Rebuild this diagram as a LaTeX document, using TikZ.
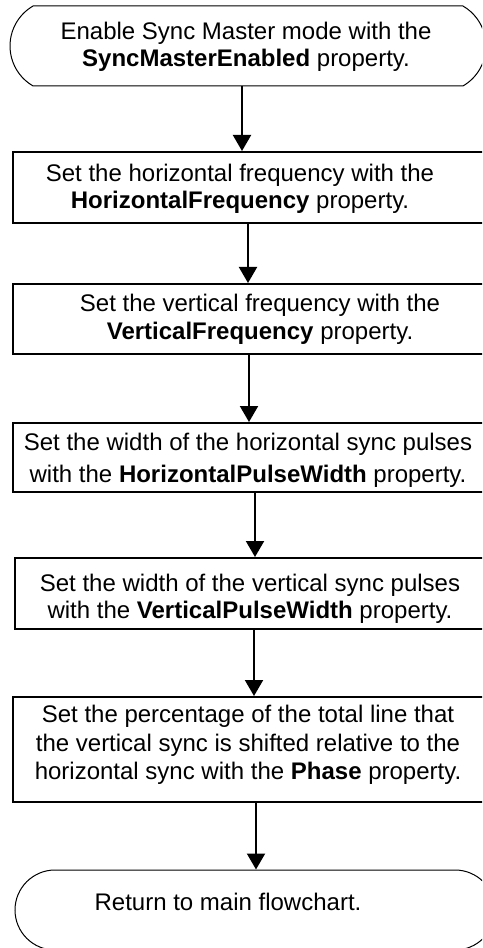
\documentclass[tikz,border=0pt]{standalone}
\usepackage{fontspec}
\setmainfont{Liberation Sans}
\usetikzlibrary{arrows.meta,shapes.misc}

\tikzset{
  procbox/.style={draw, rectangle, line width=1.5pt, inner sep=0pt},
  termbox/.style={draw, rounded rectangle, line width=0.75pt, inner sep=0pt},
  txt/.style={align=center, inner sep=0pt, font=\fontsize{18}{20.25}\selectfont},
  flow/.style={line width=1.5pt, -{Triangle[length=12pt, width=13.5pt]}}
}

\begin{document}
\begin{tikzpicture}[x=0.75pt, y=-0.75pt]
  \useasboundingbox (0,0) rectangle (482,948);
  \clip (0,0) rectangle (482,948);

  % outlines of the steps (sizes in pixel units of 0.75pt)
  \node[termbox, rounded rectangle arc length=120, minimum width=476*0.75pt, minimum height=80*0.75pt] (t1) at (248,46) {};
  \node[procbox, minimum width=507*0.75pt, minimum height=71*0.75pt] (b1) at (266.5,187.5) {};
  \node[procbox, minimum width=507*0.75pt, minimum height=70*0.75pt] (b2) at (266.5,319) {};
  \node[procbox, minimum width=507*0.75pt, minimum height=69*0.75pt] (b3) at (266.5,457.5) {};
  \node[procbox, minimum width=505*0.75pt, minimum height=71*0.75pt] (b4) at (267.5,593.5) {};
  \node[procbox, minimum width=507*0.75pt, minimum height=105*0.75pt] (b5) at (266.5,749.5) {};
  \node[termbox, rounded rectangle arc length=180, minimum width=480*0.75pt, minimum height=80*0.75pt] (t2) at (255,910) {};

  % step texts
  \node[txt] (x1) at (246,47) {Enable Sync Master mode with the\\\textbf{SyncMasterEnabled} property.};
  \node[txt] (x2) at (240,188.5) {Set the horizontal frequency with the\\\textbf{HorizontalFrequency} property.};
  \node[txt, font=\fontsize{18}{21}\selectfont] (x3) at (260,319.5) {Set the vertical frequency with the\\\textbf{VerticalFrequency} property.};
  \node[txt, font=\fontsize{18}{24}\selectfont] (x4) at (248,460) {Set the width of the horizontal sync pulses\\with the \textbf{HorizontalPulseWidth} property.};
  \node[txt] (x5) at (250,599) {Set the width of the vertical sync pulses\\with the \textbf{VerticalPulseWidth} property.};
  \node[txt, font=\fontsize{18}{21.4}\selectfont] (x6) at (248,745) {Set the percentage of the total line that\\the vertical sync is shifted relative to the\\horizontal sync with the \textbf{Phase} property.};
  \node[txt] (x7) at (228,902) {Return to main flowchart.};

  % connector positions
  \coordinate (c1) at (242,0);
  \coordinate (c2) at (248,0);
  \coordinate (c3) at (249,0);
  \coordinate (c4) at (255,0);
  \coordinate (c5) at (254,0);
  \coordinate (c6) at (256,0);

  \draw[flow] (c1 |- t1.south) -- (c1 |- b1.north);
  \draw[flow] (c2 |- b1.south) -- (c2 |- b2.north);
  \draw[flow] (c3 |- b2.south) -- (c3 |- b3.north);
  \draw[flow] (c4 |- b3.south) -- (c4 |- b4.north);
  \draw[flow] (c5 |- b4.south) -- (c5 |- b5.north);
  \draw[flow] (c6 |- b5.south) -- (c6 |- t2.north);
\end{tikzpicture}
\end{document}
